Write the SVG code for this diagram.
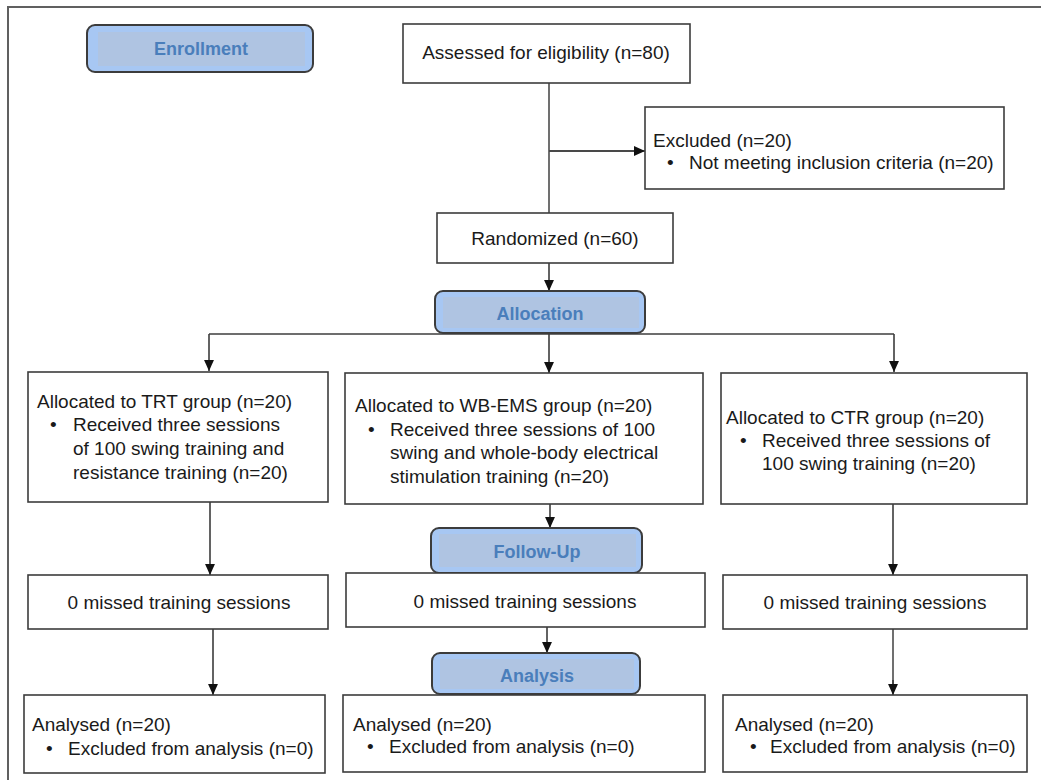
<svg xmlns="http://www.w3.org/2000/svg" width="1041" height="780" viewBox="0 0 1041 780">
<defs>
<marker id="ah" markerUnits="userSpaceOnUse" markerWidth="11" markerHeight="11" viewBox="0 0 10 10" refX="10" refY="5" orient="auto">
<path d="M0,0.5 L10,5 L0,9.5 Z" fill="#111"/>
</marker>
<style>
.box{fill:#fff;stroke:#3c3c3c;stroke-width:1.6}
.stage{fill:#a7c7f3;stroke:#3c3c3c;stroke-width:2}
.stin{fill:#afc4e2;stroke:none}
.t{font-family:"Liberation Sans",Arial,sans-serif;font-size:19px;fill:#1a1a1a}
.c{text-anchor:middle}
.sl{font-family:"Liberation Sans",Arial,sans-serif;font-size:18px;font-weight:bold;fill:#4a7ebb;text-anchor:middle}
.ln{fill:none;stroke:#3c3c3c;stroke-width:1.6}
.lg{fill:none;stroke:#707070;stroke-width:2}
</style>
</defs>
<rect x="8" y="7" width="1050" height="790" fill="none" stroke="#606060" stroke-width="2"/>

<g id="connectors">
<path class="lg" d="M549,83 V213"/>
<path class="lg" d="M549,151 H640"/>
<path class="ln" d="M549,151 H645" marker-end="url(#ah)"/>
<path class="ln" d="M549,263 V291" marker-end="url(#ah)"/>
<path class="ln" d="M209,334 H894"/>
<path class="ln" d="M209,334 V371" marker-end="url(#ah)"/>
<path class="ln" d="M549,334 V373" marker-end="url(#ah)"/>
<path class="ln" d="M894,334 V372" marker-end="url(#ah)"/>
<path class="ln" d="M210,502 V575" marker-end="url(#ah)"/>
<path class="ln" d="M550,504 V528" marker-end="url(#ah)"/>
<path class="ln" d="M893,504 V575" marker-end="url(#ah)"/>
<path class="ln" d="M213,629 V695" marker-end="url(#ah)"/>
<path class="ln" d="M547,627 V653" marker-end="url(#ah)"/>
<path class="lg" d="M893,629 V688"/>
<path class="ln" d="M893,680 V695" marker-end="url(#ah)"/>
</g>

<g id="enrollment">
<rect class="stage" x="87" y="25" width="226" height="47" rx="8"/>
<rect class="stin" x="98" y="32" width="207" height="34"/>
<text class="sl" x="201" y="55">Enrollment</text>
</g>

<g id="assessed">
<rect class="box" x="403" y="24" width="287" height="59"/>
<text class="t c" x="546" y="59">Assessed for eligibility (n=80)</text>
</g>

<g id="excluded">
<rect class="box" x="645" y="107" width="359" height="82"/>
<text class="t" x="653" y="147">Excluded (n=20)</text>
<text class="t" x="667" y="169">•</text>
<text class="t" x="689" y="169">Not meeting inclusion criteria (n=20)</text>
</g>

<g id="randomized">
<rect class="box" x="437" y="213" width="236" height="50"/>
<text class="t c" x="555" y="245">Randomized (n=60)</text>
</g>

<g id="allocation">
<rect class="stage" x="435" y="291" width="210" height="42" rx="8"/>
<rect class="stin" x="443" y="297" width="196" height="31"/>
<text class="sl" x="540" y="320">Allocation</text>
</g>

<g id="trt">
<rect class="box" x="28" y="372" width="300" height="130"/>
<text class="t" x="37" y="408">Allocated to TRT group (n=20)</text>
<text class="t" x="50" y="431">•</text>
<text class="t" x="73" y="431">Received three sessions</text>
<text class="t" x="73" y="455">of 100 swing training and</text>
<text class="t" x="73" y="479">resistance training (n=20)</text>
</g>

<g id="wbems">
<rect class="box" x="345" y="373" width="358" height="131"/>
<text class="t" x="355" y="412">Allocated to WB-EMS group (n=20)</text>
<text class="t" x="368" y="436">•</text>
<text class="t" x="390" y="436">Received three sessions of 100</text>
<text class="t" x="390" y="459">swing and whole-body electrical</text>
<text class="t" x="390" y="483">stimulation training (n=20)</text>
</g>

<g id="ctr">
<rect class="box" x="721" y="373" width="306" height="131"/>
<text class="t" x="726" y="424">Allocated to CTR group (n=20)</text>
<text class="t" x="740" y="447">•</text>
<text class="t" x="762" y="447">Received three sessions of</text>
<text class="t" x="762" y="470">100 swing training (n=20)</text>
</g>

<g id="followup">
<rect class="stage" x="431" y="528" width="211" height="45" rx="8"/>
<rect class="stin" x="439" y="534" width="197" height="33"/>
<text class="sl" x="537" y="558">Follow-Up</text>
</g>

<g id="missed-trt">
<rect class="box" x="28" y="575" width="300" height="54"/>
<text class="t c" x="179" y="609">0 missed training sessions</text>
</g>

<g id="missed-wbems">
<rect class="box" x="346" y="573" width="359" height="54"/>
<text class="t c" x="525" y="608">0 missed training sessions</text>
</g>

<g id="missed-ctr">
<rect class="box" x="723" y="575" width="304" height="54"/>
<text class="t c" x="875" y="609">0 missed training sessions</text>
</g>

<g id="analysis">
<rect class="stage" x="432" y="653" width="208" height="41" rx="8"/>
<rect class="stin" x="440" y="659" width="194" height="30"/>
<text class="sl" x="537" y="682">Analysis</text>
</g>

<g id="analysed-trt">
<rect class="box" x="24" y="695" width="301" height="78"/>
<text class="t" x="32" y="731">Analysed (n=20)</text>
<text class="t" x="46" y="755">•</text>
<text class="t" x="68" y="755">Excluded from analysis (n=0)</text>
</g>

<g id="analysed-wbems">
<rect class="box" x="343" y="695" width="362" height="77"/>
<text class="t" x="353" y="731">Analysed (n=20)</text>
<text class="t" x="367" y="753">•</text>
<text class="t" x="389" y="753">Excluded from analysis (n=0)</text>
</g>

<g id="analysed-ctr">
<rect class="box" x="723" y="695" width="304" height="77"/>
<text class="t" x="735" y="731">Analysed (n=20)</text>
<text class="t" x="750" y="753">•</text>
<text class="t" x="770" y="753">Excluded from analysis (n=0)</text>
</g>
</svg>
